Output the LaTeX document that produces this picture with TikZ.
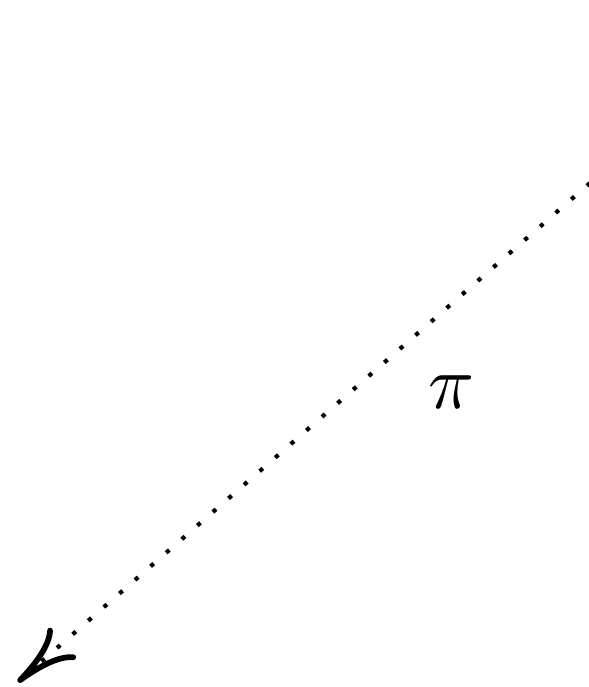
\documentclass[tikz,border=0pt]{standalone}
\usepackage{amsmath}
\usepackage{tikz}
\usetikzlibrary{arrows.meta,positioning}
\tikzset{
  projarrow/.style={line width=0.55pt, dash pattern=on 0.55pt off 2.17pt,
    -{Computer Modern Rightarrow[length=8pt,width=5.4pt,line width=0.75pt,sep=0pt]}},
  projlabel/.style={font=\normalsize, inner sep=0pt}
}
\begin{document}
\begin{tikzpicture}[x=0.004625cm,y=-0.004625cm]
  \useasboundingbox (0,0) rectangle (588,687);
  \coordinate (src) at (590,183);
  \coordinate (tgt) at (18,682);
  \draw[projarrow] (src) -- (tgt);
  \node[projlabel] (pi) at (452,392) {$\pi$};
\end{tikzpicture}
\end{document}
